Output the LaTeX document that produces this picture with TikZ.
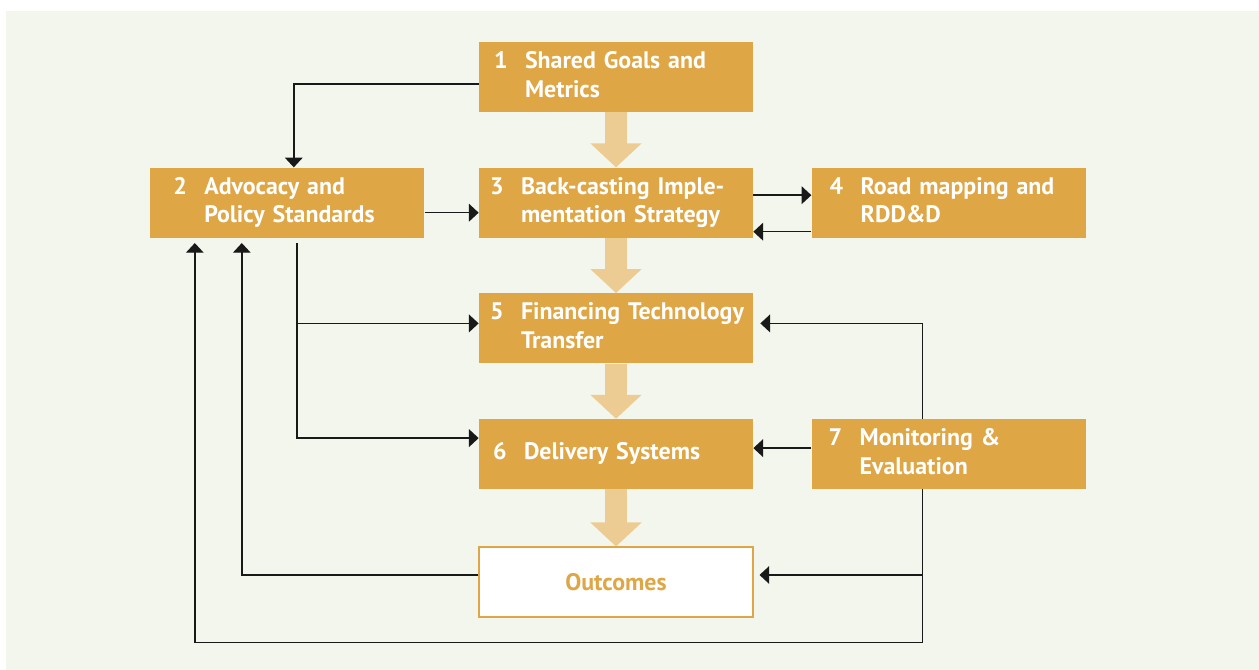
\documentclass[tikz,border=0pt]{standalone}
\usepackage{fontspec}
\setmainfont{PT Sans}
\usepackage{xcolor}
\usetikzlibrary{positioning}
\usetikzlibrary{arrows.meta}
\tikzset{>={Triangle[width=10pt,length=5.5pt]}}
\definecolor{stageorange}{RGB}{223,166,69}
\definecolor{flowtan}{RGB}{237,204,148}
\definecolor{panelgreen}{RGB}{243,246,236}
\newcommand{\stagetext}[3][3mm]{\hspace*{#1}\begin{tabular}{@{}p{6.2mm}@{}l@{}}#2 & \begin{tabular}[t]{@{}l@{}}#3\end{tabular}\end{tabular}}

\begin{document}
\begin{tikzpicture}[node distance=1.1cm and 1.08cm, stage/.style={rectangle, fill=stageorange, text=white, font=\fontsize{13.6}{16.4}\selectfont\bfseries, minimum width=5.48cm, minimum height=1.4cm, text width=5.48cm, inner xsep=0pt, inner ysep=0pt, align=left}, endbox/.style={rectangle, draw=stageorange, fill=white, text=stageorange, line width=0.6pt, font=\fontsize{13.6}{16.4}\selectfont\bfseries, minimum width=5.48cm, minimum height=1.4cm, inner sep=0pt}, flow/.style={draw=flowtan, line width=4.4mm, -{Triangle[width=10mm,length=4.8mm]}}, link/.style={->, draw=black!90, line width=0.8pt}]

    \useasboundingbox (0,0) rectangle (25.18,-13.4);
    \fill[panelgreen] (0.12,-0.22) rectangle (25.18,-13.4);

    %Nodes
    \node[stage](goals) at (12.32,-1.54){\stagetext[3mm]{1}{Shared Goals and\\Metrics}};
    \node[stage](backcasting)[below=of goals]{\stagetext[2.2mm]{3}{Back-casting Imple-\\mentation Strategy}};
    \node[stage](advocacy)[left=of backcasting]{\stagetext[4.6mm]{2}{Advocacy and\\Policy Standards}};
    \node[stage](roadmap)[right=1.16cm of backcasting]{\stagetext[3.6mm]{4}{Road mapping and\\RDD\&D}};
    \node[stage](financing)[below=of backcasting]{\stagetext[2.2mm]{5}{Financing Technology\\Transfer}};
    \node[stage](delivery)[below=of financing]{\stagetext[2.8mm]{6}{Delivery Systems}};
    \node[stage](monitoring)[right=1.16cm of delivery]{\stagetext[3.4mm]{7}{Monitoring \&\\Evaluation}};
    \node[endbox](outcomes)[below=1.14cm of delivery]{Outcomes};

    \coordinate (evalline) at ([xshift=-5.2mm]monitoring.center);
    \coordinate (loopbottom) at ([yshift=-5mm]outcomes.south);
    \coordinate (outin) at ([xshift=1.2mm,yshift=1.4mm]outcomes.east);

    %Big arrows
    \foreach \a/\b in {goals/backcasting, backcasting/financing, financing/delivery, delivery/outcomes}
        \draw[flow] (\a.south) -- (\b.north);

    %Lines
    \draw[link] ([yshift=-1.4mm]goals.west) -| ([xshift=1.3mm]advocacy.north);
    \draw[link] ([yshift=-2mm]advocacy.east) -- ([yshift=-2mm]backcasting.west);
    \draw[link] ([yshift=1.5mm]backcasting.east) -- ([yshift=1.5mm]roadmap.west);
    \draw[link] ([yshift=-5.8mm]roadmap.west) -- ([yshift=-5.8mm]backcasting.east);
    \draw[link] ([xshift=1.9mm,yshift=-1mm]advocacy.south) |- ([yshift=1mm]financing.west);
    \draw[link] ([xshift=1.9mm,yshift=-1mm]advocacy.south) |- ([yshift=3.2mm]delivery.west);
    \draw[link] ([yshift=1.2mm]monitoring.west) -- ([yshift=1.2mm]delivery.east);
    \draw[link] (evalline |- monitoring.north) |- ([xshift=1.4mm,yshift=1mm]financing.east);
    \draw[link] (evalline |- outin) -- (outin);
    \draw[link] (evalline |- monitoring.south) -- (evalline |- loopbottom) -| ([xshift=-18.5mm,yshift=-1mm]advocacy.south);
    \draw[link] ([yshift=1.4mm]outcomes.west) -| ([xshift=-9.1mm,yshift=-1mm]advocacy.south);

\end{tikzpicture}
\end{document}
